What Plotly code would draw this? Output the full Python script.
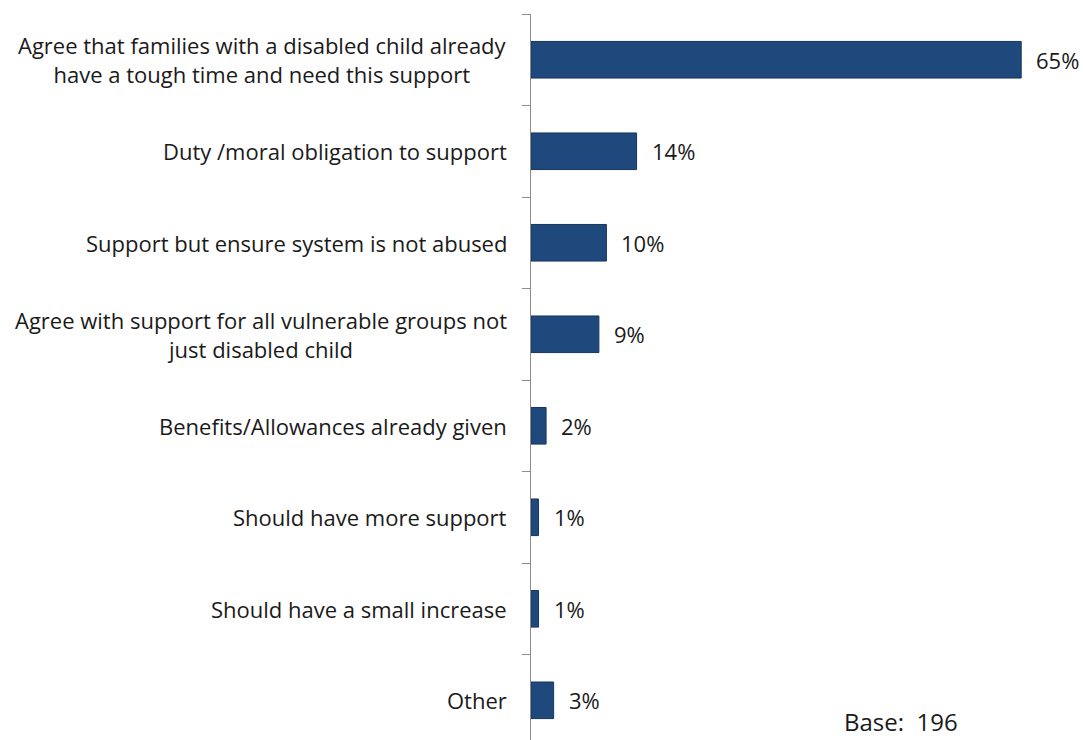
import plotly.graph_objects as go

# Reasons given for supporting the change (share of respondents)
categories = [
    "Agree that families with a disabled child already<br>have a tough time and need this support",
    "Duty /moral obligation to support",
    "Support but ensure system is not abused",
    "Agree with support for all vulnerable groups not<br>just disabled child",
    "Benefits/Allowances already given",
    "Should have more support",
    "Should have a small increase",
    "Other",
]
values = [65, 14, 10, 9, 2, 1, 1, 3]
value_labels = [f"{v}%" for v in values]
base_note = "Base:  196"

FONT = "Open Sans"
TEXT = "#1a1a1a"
positions = list(range(len(categories)))

fig = go.Figure(
    go.Bar(
        x=values,
        y=positions,
        orientation="h",
        width=0.4,
        marker=dict(color="#1F497D", line=dict(color="#17365D", width=1)),
        hoverinfo="skip",
    )
)

# category labels: right-aligned block, lines centred within it
for pos, label in zip(positions, categories):
    fig.add_annotation(
        x=0, xref="paper", y=pos, yref="y",
        text=label, showarrow=False,
        xanchor="right", yanchor="middle", align="center",
        xshift=-22,
        font=dict(family=FONT, size=22, color=TEXT),
    )

# value labels at the end of each bar
for pos, v, lab in zip(positions, values, value_labels):
    fig.add_annotation(
        x=v, xref="x", y=pos, yref="y",
        text=lab, showarrow=False,
        xanchor="left", yanchor="middle",
        xshift=13,
        font=dict(family=FONT, size=22, color=TEXT),
    )

fig.add_annotation(
    x=0.572, xref="paper", y=0.0, yref="paper",
    text=base_note, showarrow=False,
    xanchor="left", yanchor="bottom",
    yshift=0,
    font=dict(family=FONT, size=24, color=TEXT),
)

fig.update_layout(
    width=1083,
    height=740,
    margin=dict(l=531, r=9, t=14, b=0),
    paper_bgcolor="white",
    plot_bgcolor="white",
    showlegend=False,
    xaxis=dict(
        range=[0, 72],
        showgrid=False,
        zeroline=False,
        showline=False,
        showticklabels=False,
        ticks="",
    ),
    yaxis=dict(
        range=[7.434, -0.5],
        showgrid=False,
        zeroline=False,
        showline=True,
        linecolor="#8c8c8c",
        linewidth=1.3,
        showticklabels=False,
        tickmode="array",
        tickvals=[p - 0.5 for p in positions],
        ticks="outside",
        ticklen=8,
        tickcolor="#8c8c8c",
        tickwidth=1.3,
    ),
)

fig.write_html("out.html")
